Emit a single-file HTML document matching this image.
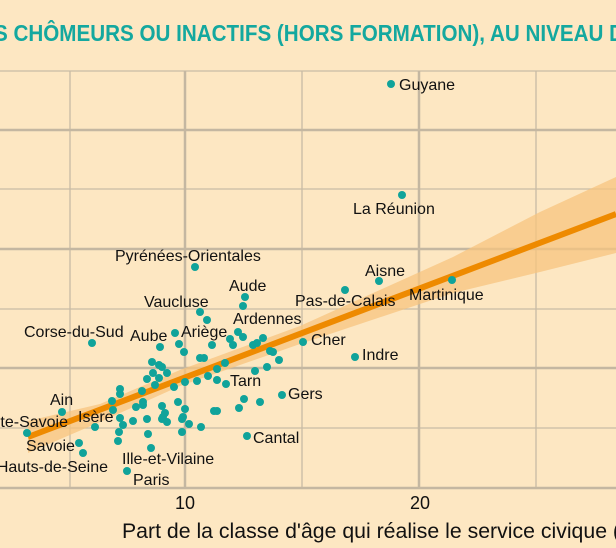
<!DOCTYPE html>
<html><head><meta charset="utf-8"><style>
html,body{margin:0;padding:0;background:#fde7c2;}
svg{display:block;}
text{font-family:"Liberation Sans",sans-serif;}
</style></head><body>
<svg width="616" height="548" viewBox="0 0 616 548" xmlns="http://www.w3.org/2000/svg">
<rect width="616" height="548" fill="#fde7c2"/>
<text x="-6" y="41" font-size="23" font-weight="bold" fill="#14a89f" textLength="630" lengthAdjust="spacingAndGlyphs">S CHÔMEURS OU INACTIFS (HORS FORMATION), AU NIVEAU D</text>
<g stroke="#c8bba5" stroke-width="1.3">
<line x1="0" y1="71" x2="616" y2="71"/>
<line x1="0" y1="189" x2="616" y2="189"/>
<line x1="0" y1="309" x2="616" y2="309"/>
<line x1="0" y1="428" x2="616" y2="428"/>
<line x1="70" y1="71" x2="70" y2="488"/>
<line x1="302" y1="71" x2="302" y2="488"/>
<line x1="536" y1="71" x2="536" y2="488"/>
</g>
<g stroke="#c4b7a1" stroke-width="2.5">
<line x1="0" y1="130" x2="616" y2="130"/>
<line x1="0" y1="249" x2="616" y2="249"/>
<line x1="0" y1="368" x2="616" y2="368"/>
<line x1="0" y1="488" x2="616" y2="488"/>
<line x1="185" y1="71" x2="185" y2="488"/>
<line x1="419" y1="71" x2="419" y2="488"/>
</g>
<polygon points="28,421 100,404 180,370 300,326 453,257 540,212 616,177 616,253 540,272 453,293 300,344 180,386 100,422 28,453" fill="#f7c47f" opacity="0.75"/>
<line x1="28" y1="437" x2="616" y2="214" stroke="#ee8a00" stroke-width="6"/>
<g fill="#10a39a">
<circle cx="391" cy="84" r="4"/><circle cx="402" cy="195" r="4"/><circle cx="379" cy="281" r="4"/><circle cx="345" cy="290" r="4"/><circle cx="452" cy="280" r="4"/><circle cx="303" cy="342" r="4"/><circle cx="355" cy="357" r="4"/>
<circle cx="195" cy="267" r="4"/><circle cx="245" cy="297" r="4"/><circle cx="243" cy="306" r="4"/><circle cx="200" cy="312" r="4"/><circle cx="207" cy="320" r="4"/><circle cx="175" cy="333" r="4"/><circle cx="179" cy="344" r="4"/><circle cx="160" cy="347" r="4"/><circle cx="184" cy="352" r="4"/><circle cx="212" cy="345" r="4"/><circle cx="238" cy="332" r="4"/><circle cx="243" cy="337" r="4"/><circle cx="230" cy="339" r="4"/><circle cx="233" cy="345" r="4"/><circle cx="253" cy="345" r="4"/><circle cx="257" cy="343" r="4"/><circle cx="263" cy="338" r="4"/><circle cx="270" cy="351" r="4"/><circle cx="273" cy="352" r="4"/><circle cx="279" cy="360" r="4"/><circle cx="267" cy="367" r="4"/><circle cx="255" cy="371" r="4"/>
<circle cx="200" cy="358" r="4"/><circle cx="204" cy="358" r="4"/><circle cx="225" cy="363" r="4"/><circle cx="217" cy="369" r="4"/><circle cx="217" cy="380" r="4"/><circle cx="208" cy="376" r="4"/><circle cx="197" cy="381" r="4"/><circle cx="185" cy="382" r="4"/><circle cx="226" cy="384" r="4"/><circle cx="152" cy="362" r="4"/><circle cx="159" cy="365" r="4"/><circle cx="162" cy="367" r="4"/><circle cx="167" cy="373" r="4"/><circle cx="153" cy="373" r="4"/><circle cx="147" cy="379" r="4"/><circle cx="159" cy="378" r="4"/><circle cx="155" cy="385" r="4"/><circle cx="174" cy="387" r="4"/><circle cx="142" cy="391" r="4"/><circle cx="120" cy="389" r="4"/><circle cx="120" cy="394" r="4"/><circle cx="112" cy="401" r="4"/><circle cx="143" cy="402" r="4"/><circle cx="143" cy="405" r="4"/><circle cx="136" cy="407" r="4"/><circle cx="113" cy="410" r="4"/><circle cx="162" cy="406" r="4"/><circle cx="178" cy="402" r="4"/><circle cx="244" cy="399" r="4"/><circle cx="260" cy="402" r="4"/><circle cx="239" cy="408" r="4"/><circle cx="282" cy="395" r="4"/><circle cx="217" cy="411" r="4"/><circle cx="214" cy="411" r="4"/><circle cx="185" cy="409" r="4"/><circle cx="165" cy="413" r="4"/><circle cx="183" cy="417" r="4"/><circle cx="182" cy="419" r="4"/><circle cx="163" cy="417" r="4"/><circle cx="162" cy="419" r="4"/><circle cx="167" cy="422" r="4"/><circle cx="147" cy="419" r="4"/><circle cx="133" cy="421" r="4"/><circle cx="120" cy="418" r="4"/><circle cx="123" cy="425" r="4"/><circle cx="189" cy="424" r="4"/><circle cx="201" cy="427" r="4"/><circle cx="182" cy="432" r="4"/><circle cx="148" cy="434" r="4"/><circle cx="119" cy="432" r="4"/><circle cx="118" cy="441" r="4"/><circle cx="151" cy="448" r="4"/><circle cx="247" cy="436" r="4"/>
<circle cx="92" cy="343" r="4"/><circle cx="62" cy="412" r="4"/><circle cx="27" cy="433" r="4"/><circle cx="79" cy="443" r="4"/><circle cx="83" cy="453" r="4"/><circle cx="95" cy="427" r="4"/><circle cx="127" cy="471" r="4"/>
</g>
<g font-size="16" fill="#111">
<text x="399" y="90">Guyane</text>
<text x="353" y="214">La Réunion</text>
<text x="115" y="261">Pyrénées-Orientales</text>
<text x="365" y="276">Aisne</text>
<text x="229" y="291">Aude</text>
<text x="295" y="306">Pas-de-Calais</text>
<text x="409" y="300">Martinique</text>
<text x="144" y="307">Vaucluse</text>
<text x="233" y="324">Ardennes</text>
<text x="24" y="337">Corse-du-Sud</text>
<text x="130" y="341">Aube</text>
<text x="181" y="337">Ariège</text>
<text x="311" y="345">Cher</text>
<text x="362" y="360">Indre</text>
<text x="230" y="386">Tarn</text>
<text x="288" y="399">Gers</text>
<text x="50" y="405">Ain</text>
<text x="78" y="422">Isère</text>
<text x="68" y="427" text-anchor="end">Haute-Savoie</text>
<text x="26" y="451">Savoie</text>
<text x="108" y="472" text-anchor="end">Hauts-de-Seine</text>
<text x="122" y="464">Ille-et-Vilaine</text>
<text x="133" y="485">Paris</text>
<text x="253" y="443">Cantal</text>
</g>
<g font-size="18" fill="#111" text-anchor="middle">
<text x="185" y="509">10</text>
<text x="420" y="509">20</text>
</g>
<text x="122" y="538" font-size="21" fill="#111" textLength="498" lengthAdjust="spacingAndGlyphs">Part de la classe d'âge qui réalise le service civique (</text>
</svg>
</body></html>
